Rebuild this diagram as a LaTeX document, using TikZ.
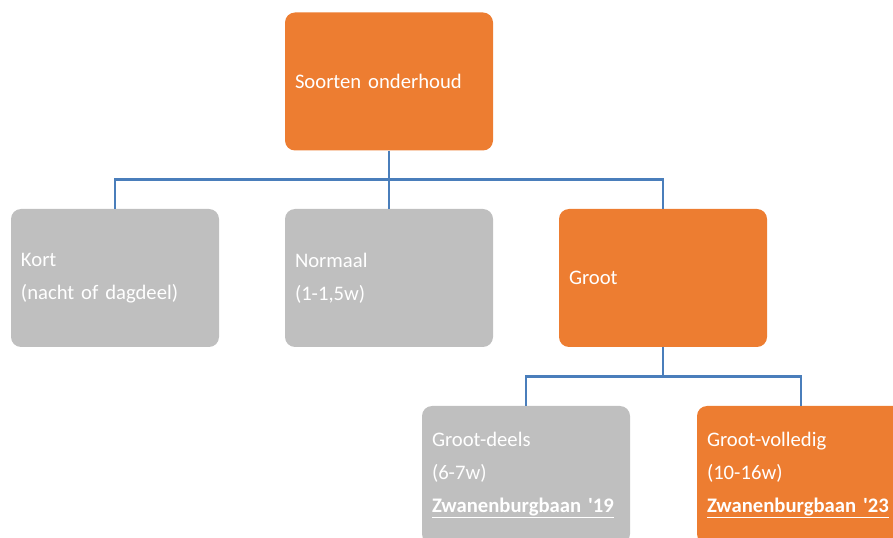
\documentclass[tikz,border=0pt]{standalone}
\usepackage{fontspec}
\setmainfont{Carlito}
\usetikzlibrary{positioning}
\definecolor{oranje}{HTML}{ED7D31}
\definecolor{grijs}{HTML}{BFBFBF}
\definecolor{lijn}{HTML}{4A7EBB}

\begin{document}
\begin{tikzpicture}[x=0.75pt,y=-0.75pt,
    blok/.style={rectangle, rounded corners=7.5pt, minimum width=156pt, minimum height=103.5pt,
        text width=141pt, inner sep=7.5pt, align=left, text=white,
        font=\fontsize{15.5}{24.75}\selectfont},
    actief/.style={blok, fill=oranje},
    passief/.style={blok, fill=grijs},
    link/.style={draw=lijn, line width=2pt}]
    \useasboundingbox (0,0) rectangle (893,538);
    \clip (0,0) rectangle (893,538);

    % Hoofdblok
    \node[actief] (soorten) at (389,81.5) {Soorten onderhoud};

    % Tweede niveau
    \node[passief] (kort) at (115,278) {Kort\\(nacht of dagdeel)};
    \node[passief] (normaal) at (389,278) {Normaal\\(1-1,5w)};
    \node[actief] (groot) at (663,278) {Groot};

    % Derde niveau
    \node[passief] (deels) at (526,475) {Groot-deels\\(6-7w)\\\underline{\textbf{Zwanenburgbaan \textquotesingle19}}};
    \node[actief] (volledig) at (801,475) {Groot-volledig\\(10-16w)\\\underline{\textbf{Zwanenburgbaan \textquotesingle23}}};

    % Verbindingen
    \draw[link] (soorten.south) -- ++(0,29) -| (kort.north);
    \draw[link] (soorten.south) -- (normaal.north);
    \draw[link] (soorten.south) -- ++(0,29) -| (groot.north);
    \draw[link] (groot.south) -- ++(0,29) -| (deels.north);
    \draw[link] (groot.south) -- ++(0,29) -| (volledig.north);
\end{tikzpicture}
\end{document}
